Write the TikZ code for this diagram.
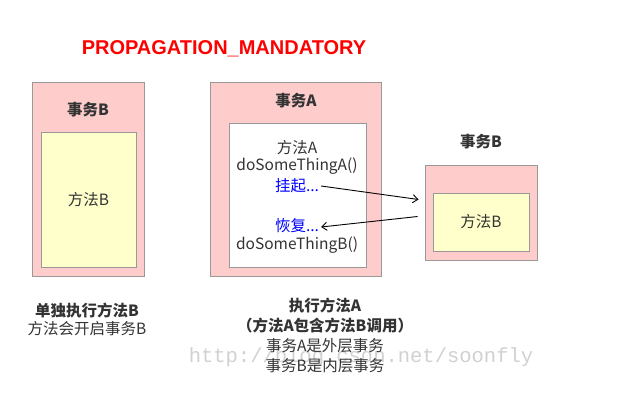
\documentclass[tikz,border=0pt]{standalone}
\usepackage{fontspec}
\setmainfont{Noto Sans CJK SC}
\newfontfamily\titlefont{Liberation Sans}
\newfontfamily\markfont{Liberation Mono}
\usetikzlibrary{arrows.meta}

\definecolor{txpink}{HTML}{FFCCCC}
\definecolor{methyellow}{HTML}{FFFFCC}
\definecolor{boxgray}{HTML}{999999}
\definecolor{txtdark}{HTML}{333333}

\begin{document}
\begin{tikzpicture}[x=1pt, y=-1pt, >={Straight Barb[length=5pt,width=8pt]},
    txbox/.style={draw=boxgray, fill=txpink, line width=0.9pt, inner sep=0pt},
    methbox/.style={draw=boxgray, fill=methyellow, line width=0.9pt, inner sep=0pt},
    codebox/.style={draw=boxgray, fill=white, line width=0.9pt, inner sep=0pt},
    lbl/.style={font=\fontsize{15.5}{17}\selectfont, text=txtdark, inner sep=0pt},
    blbl/.style={lbl, font=\fontsize{15.5}{17}\selectfont\bfseries}]
    \useasboundingbox (0,0) rectangle (631,407);

    % watermark
    \node[font=\markfont\fontsize{20.5}{22}\selectfont, text=black!18, inner sep=0pt] (mark) at (361,357) {http://blog.csdn.net/soonfly};

    % title
    \node[font=\titlefont\fontsize{20}{22}\selectfont\bfseries, text=red, inner sep=0pt] (title) at (224,49) {PROPAGATION\_MANDATORY};

    % left: method B alone
    \node[txbox, minimum width=112pt, minimum height=194pt] (txLeft) at (88,179) {};
    \node[blbl] (txLeftLbl) at (88,110) {事务B};
    \node[methbox, minimum width=95pt, minimum height=135pt] (methLeft) at (88.5,199.5) {};
    \node[lbl] at (methLeft) {方法B};

    % middle: transaction A
    \node[txbox, minimum width=171pt, minimum height=194pt] (txA) at (295.5,179) {};
    \node[blbl] (txALbl) at (296,101) {事务A};
    \node[codebox, minimum width=137pt, minimum height=144pt] (methA) at (297.5,195) {};
    \node[lbl] (nameA) at (297,148) {方法A};
    \node[lbl] (doA) at (297,166) {doSomeThingA()};
    \node[lbl, text=blue] (suspend) at (297,186) {挂起...};
    \node[lbl, text=blue] (resume) at (297,226) {恢复...};
    \node[lbl] (doB) at (297,245) {doSomeThingB()};

    % right: inner transaction B
    \node[blbl] (txRightLbl) at (481,142) {事务B};
    \node[txbox, minimum width=112pt, minimum height=95pt] (txRight) at (481,212.5) {};
    \node[methbox, minimum width=96pt, minimum height=58pt] (methRight) at (481,222) {};
    \node[lbl] at (methRight) {方法B};

    \coordinate (callIn) at ([shift={(-6,-13)}]txRight.west);
    \coordinate (callOut) at ([shift={(-7,4)}]txRight.west);
    \draw[->, line width=0.9pt] ([xshift=2pt]suspend.east) -- (callIn);
    \draw[->, line width=0.9pt] (callOut) -- ([xshift=2pt,yshift=-1pt]resume.east);

    % captions
    \node[lbl, align=center, font=\fontsize{15.5}{18}\selectfont] (capLeft) at (87,319)
        {\textbf{单独执行方法B}\\方法会开启事务B};
    \node[lbl, align=center, font=\fontsize{15.5}{20}\selectfont] (capMid) at (325,335)
        {\textbf{执行方法A}\\\textbf{（方法A包含方法B调用）}\\事务A是外层事务\\事务B是内层事务};
\end{tikzpicture}
\end{document}
